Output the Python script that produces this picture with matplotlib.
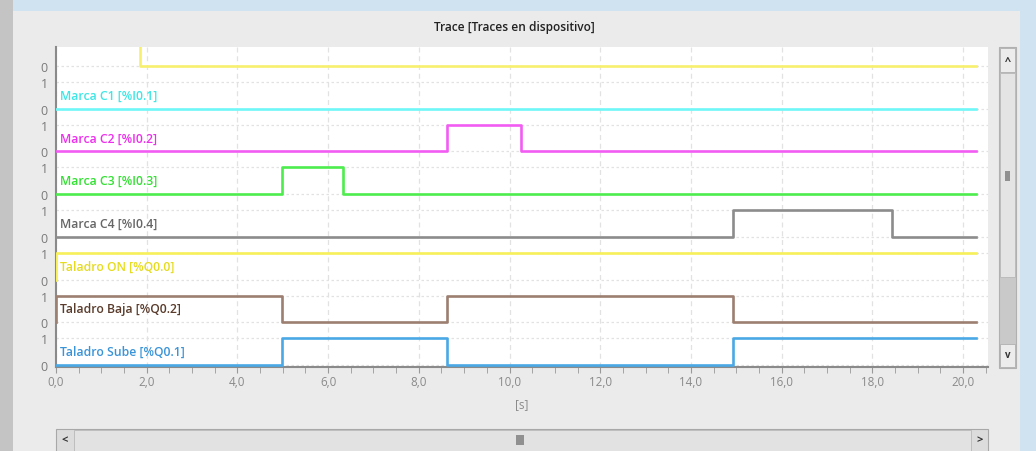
import matplotlib
matplotlib.use("Agg")
import matplotlib.pyplot as plt
from matplotlib.patches import Rectangle
from matplotlib.ticker import MultipleLocator, FuncFormatter

plt.rcParams['font.family'] = ['Open Sans', 'DejaVu Sans']

# signals, top lane first: (label, change times [s], values, line colour, label colour)
t_end = 20.29
names = ["", "Marca C1 [%I0.1]", "Marca C2 [%I0.2]", "Marca C3 [%I0.3]",
         "Marca C4 [%I0.4]", "Taladro ON [%Q0.0]", "Taladro Baja [%Q0.2]",
         "Taladro Sube [%Q0.1]"]
times = [
    [0.0, 1.85, t_end],
    [0.0, t_end],
    [0.0, 8.63, 10.25, t_end],
    [0.0, 4.99, 6.33, t_end],
    [0.0, 14.93, 18.44, t_end],
    [0.0, 0.0, t_end],
    [0.0, 0.0, 4.99, 8.63, 14.93, t_end],
    [0.0, 4.99, 8.63, 14.93, t_end],
]
values = [
    [1, 0, 0],
    [0, 0],
    [0, 1, 0, 0],
    [0, 1, 0, 0],
    [0, 1, 0, 0],
    [0, 1, 1],
    [0, 1, 0, 1, 0, 0],
    [0, 1, 0, 1, 1],
]
line_colors = ["#f7f06e", "#6ff7f7", "#f25cf2", "#4ded4d", "#8c8c8c",
               "#f7f05a", "#9c7f70", "#4aa8e6"]
text_colors = ["#e0d820", "#3ee6e6", "#ee2eee", "#33e033", "#666666",
               "#e6dc1e", "#5a3c2c", "#3a94d8"]
x_ticks = [0, 2, 4, 6, 8, 10, 12, 14, 16, 18, 20]

W, H = 1036, 452
fig = plt.figure(figsize=(W / 100, H / 100), dpi=100)
fig.patch.set_facecolor("#ebebeb")


def px_rect(x0, y0, x1, y1, **kw):
    # rectangle in pixel coords (origin top-left)
    fig.patches.append(Rectangle((x0 / W, 1 - y1 / H), (x1 - x0) / W, (y1 - y0) / H,
                                 transform=fig.transFigure, figure=fig, **kw))


# screenshot surroundings
px_rect(0, 0, W, 12, facecolor="#cfe3f1", edgecolor="none")
px_rect(1020, 0, W, H, facecolor="#cfe3f1", edgecolor="none")
px_rect(0, 0, 13, H, facecolor="#c4c4c4", edgecolor="none")

fig.text(514 / W, 1 - 28 / H, "Trace [Traces en dispositivo]", ha="center", va="center",
         fontsize=8.6, fontweight="semibold", color="#222222")

ax = fig.add_axes([56 / W, 1 - 368 / H, (988 - 56) / W, (368 - 48) / H])
ax.set_facecolor("white")

lane = 1.6
yt, yl = [], []
for k in range(len(names)):
    base = -k * lane
    ax.step(times[k], [base + v for v in values[k]], where="post",
            color=line_colors[k], lw=1.9, zorder=3)
    for v in (0, 1):
        ax.axhline(base + v, color="#e2e2e2", lw=0.9, ls=(0, (2, 2)), zorder=1)
        if k > 0 or v == 0:
            yt.append(base + v)
            yl.append(str(v))
    if names[k]:
        ax.text(0.09, base + 0.5, names[k], color=text_colors[k], fontsize=8.8,
                fontweight="semibold", va="center", ha="left", zorder=4)

ax.set_yticks(yt)
ax.set_yticklabels(yl)
ax.set_xticks(x_ticks)
ax.set_xlim(0, 20.55)
ax.set_ylim(-7 * lane - 0.075, 0.71)
ax.xaxis.set_major_formatter(FuncFormatter(lambda v, p: f"{v:.1f}".replace(".", ",")))
ax.xaxis.set_minor_locator(MultipleLocator(0.5))
ax.grid(axis="x", color="#e2e2e2", lw=0.9, ls=(0, (4, 3)), zorder=0)
ax.tick_params(axis="x", which="both", length=4, color="#999999", labelcolor="#8a8a8a",
               labelsize=8.4, pad=2)
ax.tick_params(axis="y", length=0, labelcolor="#7a7a7a", labelsize=9, pad=6)
for s in ("top", "right"):
    ax.spines[s].set_visible(False)
ax.spines["left"].set_color("#8a8a8a")
ax.spines["bottom"].set_color("#8a8a8a")
ax.spines["left"].set_linewidth(1.5)
ax.spines["bottom"].set_linewidth(1.5)
ax.set_xlabel("[s]", color="#8a8a8a", fontsize=8.4, labelpad=6)

# vertical scrollbar
px_rect(999, 48, 1016, 369, facecolor="#c9c9c9", edgecolor="#b0b0b0", lw=0.8)
px_rect(1000, 74, 1015, 278, facecolor="#e4e4e4", edgecolor="#b8b8b8", lw=0.6)
px_rect(1000, 49, 1015, 73, facecolor="#ececec", edgecolor="#b0b0b0", lw=0.6)
px_rect(1000, 345, 1015, 368, facecolor="#ececec", edgecolor="#b0b0b0", lw=0.6)
px_rect(1005, 172, 1010, 182, facecolor="#909090", edgecolor="none")
fig.text(1007.5 / W, 1 - 62 / H, "^", ha="center", va="center", fontsize=8,
         color="#333333", fontweight="bold")
fig.text(1007.5 / W, 1 - 356 / H, "v", ha="center", va="center", fontsize=7,
         color="#333333", fontweight="bold")

# horizontal scrollbar
px_rect(56, 430, 988, 455, facecolor="#dcdcdc", edgecolor="#a8a8a8", lw=0.8)
px_rect(74, 431, 971, 455, facecolor="#e2e2e2", edgecolor="#b8b8b8", lw=0.6)
px_rect(516, 436, 524, 446, facecolor="#909090", edgecolor="none")
fig.text(65 / W, 1 - 441 / H, "<", ha="center", va="center", fontsize=8,
         color="#333333", fontweight="bold")
fig.text(980 / W, 1 - 441 / H, ">", ha="center", va="center", fontsize=8,
         color="#333333", fontweight="bold")

fig.savefig("out.png", dpi=100, facecolor=fig.get_facecolor())
